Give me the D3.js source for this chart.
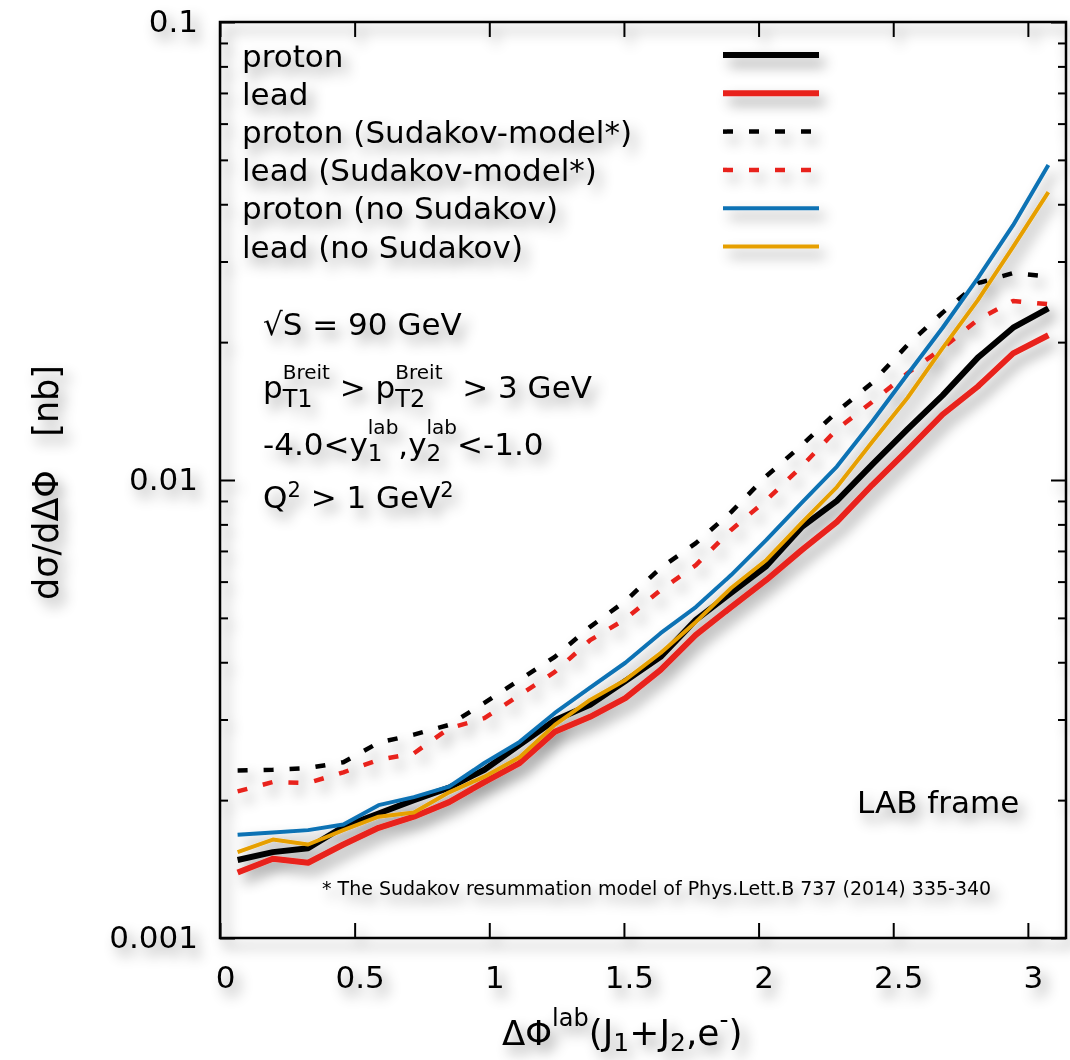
<!DOCTYPE html>
<html>
<head>
<meta charset="utf-8">
<script src="https://cdn.jsdelivr.net/npm/d3@7"></script>
<style>
body { margin: 0; background: #fff; }
text { font-family: "DejaVu Sans", Verdana, sans-serif; white-space: pre; fill: #000; }
</style>
</head>
<body>
<svg id="chart" width="1070" height="1060"></svg>
<script>
// bin centres in delta phi (24 bins over 0..pi)
const phiBins = [0.0654, 0.1963, 0.3272, 0.4581, 0.5890, 0.7199, 0.8508, 0.9817,
    1.1126, 1.2435, 1.3744, 1.5053, 1.6362, 1.7671, 1.8980, 2.0289,
    2.1598, 2.2907, 2.4216, 2.5525, 2.6834, 2.8143, 2.9452, 3.0761];

const proton = [0.00148, 0.00154, 0.00157, 0.00175, 0.00187, 0.00200, 0.00213, 0.00233,
    0.00264, 0.00299, 0.00323, 0.00364, 0.00411, 0.00495, 0.00567, 0.00649,
    0.00789, 0.00900, 0.0108, 0.0129, 0.0153, 0.0185, 0.0215, 0.0237];
const lead = [0.00139, 0.00149, 0.00146, 0.00160, 0.00174, 0.00184, 0.00198, 0.00219,
    0.00241, 0.00282, 0.00304, 0.00334, 0.00385, 0.00459, 0.00528, 0.00605,
    0.00703, 0.00810, 0.00975, 0.0116, 0.0139, 0.0160, 0.0189, 0.0207];
const protonSud = [0.00232, 0.00233, 0.00235, 0.00242, 0.00267, 0.00278, 0.00292, 0.00326,
    0.00366, 0.00411, 0.00478, 0.00544, 0.00643, 0.00728, 0.00851, 0.0102,
    0.0119, 0.0141, 0.0163, 0.0197, 0.0232, 0.0269, 0.0283, 0.0278];
const leadSud = [0.00209, 0.00219, 0.00218, 0.00230, 0.00245, 0.00253, 0.00287, 0.00302,
    0.00339, 0.00381, 0.00447, 0.00497, 0.00575, 0.00652, 0.00778, 0.00904,
    0.0107, 0.0129, 0.0148, 0.0171, 0.0194, 0.0224, 0.0246, 0.0242];
const protonNoSud = [0.00168, 0.00170, 0.00172, 0.00177, 0.00195, 0.00203, 0.00214, 0.00241,
    0.00268, 0.00310, 0.00352, 0.00399, 0.00463, 0.00528, 0.00620, 0.00740,
    0.00891, 0.0107, 0.0134, 0.0170, 0.0215, 0.0276, 0.0360, 0.0487];
const leadNoSud = [0.00154, 0.00164, 0.00160, 0.00172, 0.00184, 0.00188, 0.00208, 0.00225,
    0.00248, 0.00292, 0.00331, 0.00366, 0.00419, 0.00490, 0.00581, 0.00669,
    0.00806, 0.00965, 0.0121, 0.0151, 0.0194, 0.0247, 0.0323, 0.0425];

const seriesLabels = ["proton", "lead", "proton (Sudakov-model*)", "lead (Sudakov-model*)",
    "proton (no Sudakov)", "lead (no Sudakov)"];

const xTicks = [0, 0.5, 1, 1.5, 2, 2.5, 3];
const xTickLabels = ["0", "0.5", "1", "1.5", "2", "2.5", "3"];
const yTicks = [0.001, 0.01, 0.1];
const yTickLabels = ["0.001", "0.01", "0.1"];

const series = [
    { label: seriesLabels[0], values: proton, color: "#000000", width: 6, dash: null },
    { label: seriesLabels[1], values: lead, color: "#e8231b", width: 6, dash: null },
    { label: seriesLabels[2], values: protonSud, color: "#000000", width: 4.5, dash: "10,16" },
    { label: seriesLabels[3], values: leadSud, color: "#e8231b", width: 4.5, dash: "10,16" },
    { label: seriesLabels[4], values: protonNoSud, color: "#0a72b4", width: 4, dash: null },
    { label: seriesLabels[5], values: leadNoSud, color: "#e69f00", width: 4, dash: null }
];

const W = 1070, H = 1060;
const plot = { left: 220, top: 22, right: 1066, bottom: 938 };

const x = d3.scaleLinear().domain([0, Math.PI]).range([plot.left, plot.right]);
const y = d3.scaleLog().domain([0.001, 0.1]).range([plot.bottom, plot.top]);

const svg = d3.select("#chart");
const filter = svg.append("defs").append("filter")
    .attr("id", "shadow")
    .attr("filterUnits", "userSpaceOnUse")
    .attr("x", 0).attr("y", 0).attr("width", W).attr("height", H);
filter.append("feDropShadow")
    .attr("dx", 6).attr("dy", 8)
    .attr("stdDeviation", 6.5)
    .attr("flood-color", "#000")
    .attr("flood-opacity", 0.42);

const root = svg.append("g").attr("filter", "url(#shadow)");

const minorTicks = y.ticks().filter(d => yTicks.indexOf(d) < 0);

function styleAxis(g) {
    g.select(".domain").remove();
    g.attr("font-family", null).attr("font-size", null);
    g.selectAll(".tick line").attr("stroke", "#000").attr("stroke-width", 2);
    g.selectAll(".tick text").attr("font-size", 31).attr("fill", "#000");
}

// bottom + top
root.append("g")
    .attr("transform", `translate(0,${plot.bottom})`)
    .call(d3.axisBottom(x).tickValues(xTicks).tickFormat((d, i) => xTickLabels[i]).tickSize(-15).tickPadding(28))
    .call(styleAxis)
    .selectAll(".tick text").attr("dx", 5);

root.append("g")
    .attr("transform", `translate(0,${plot.top})`)
    .call(d3.axisTop(x).tickValues(xTicks).tickFormat("").tickSize(-15))
    .call(styleAxis);

// left + right
root.append("g")
    .attr("transform", `translate(${plot.left},0)`)
    .call(d3.axisLeft(y).tickValues(yTicks).tickFormat((d, i) => yTickLabels[i]).tickSize(-15).tickPadding(22))
    .call(styleAxis);
root.append("g")
    .attr("transform", `translate(${plot.left},0)`)
    .call(d3.axisLeft(y).tickValues(minorTicks).tickFormat("").tickSize(-8))
    .call(styleAxis);
root.append("g")
    .attr("transform", `translate(${plot.right},0)`)
    .call(d3.axisRight(y).tickValues(yTicks).tickFormat("").tickSize(-15))
    .call(styleAxis);
root.append("g")
    .attr("transform", `translate(${plot.right},0)`)
    .call(d3.axisRight(y).tickValues(minorTicks).tickFormat("").tickSize(-8))
    .call(styleAxis);

root.append("rect")
    .attr("x", plot.left).attr("y", plot.top)
    .attr("width", plot.right - plot.left).attr("height", plot.bottom - plot.top)
    .attr("fill", "none").attr("stroke", "#000").attr("stroke-width", 2.5);

// curves
const line = d3.line()
    .x((d, i) => x(phiBins[i]))
    .y(d => y(d));

root.selectAll(".curve")
    .data(series)
    .enter()
    .append("path")
    .attr("class", "curve")
    .attr("d", d => line(d.values))
    .attr("fill", "none")
    .attr("stroke", d => d.color)
    .attr("stroke-width", d => d.width)
    .attr("stroke-dasharray", d => d.dash)
    .attr("stroke-linejoin", "round");

// legend
const legend = root.append("g");
series.forEach((s, i) => {
    legend.append("text")
        .attr("x", 242).attr("y", 67 + i * 38.1)
        .attr("font-size", 31)
        .text(s.label);
    legend.append("line")
        .attr("x1", 723).attr("x2", 819)
        .attr("y1", 55 + i * 38.3).attr("y2", 55 + i * 38.3)
        .attr("stroke", s.color)
        .attr("stroke-width", s.width)
        .attr("stroke-dasharray", s.dash);
});

// text with sub/superscripts laid out piece by piece
function rich(parent, x0, yb, pieces) {
    let cx = x0;
    pieces.forEach(p => {
        const parts = p.stack ? p.stack : [p];
        let adv = 0;
        parts.forEach(q => {
            const t = parent.append("text")
                .attr("x", cx)
                .attr("y", yb + (q.dy || 0))
                .attr("font-size", q.size || 31)
                .text(q.t);
            adv = Math.max(adv, t.node().getComputedTextLength());
        });
        cx += adv;
    });
    return cx;
}

rich(root, 263, 335, [{ t: "√S = 90 GeV" }]);
rich(root, 263, 398, [
    { t: "p" },
    { stack: [{ t: "T1", size: 24, dy: 9 }, { t: "Breit", size: 20, dy: -19 }] },
    { t: " > p" },
    { stack: [{ t: "T2", size: 24, dy: 9 }, { t: "Breit", size: 20, dy: -19 }] },
    { t: "  > 3 GeV" }
]);
rich(root, 263, 455, [
    { t: "-4.0<y" },
    { stack: [{ t: "1", size: 23, dy: 6 }, { t: "lab", size: 20, dy: -21 }] },
    { t: ",y" },
    { stack: [{ t: "2", size: 23, dy: 6 }, { t: "lab", size: 20, dy: -21 }] },
    { t: "<-1.0" }
]);
rich(root, 263, 508, [
    { t: "Q" }, { t: "2", size: 21, dy: -11 }, { t: " > 1 GeV" }, { t: "2", size: 21, dy: -11 }
]);

root.append("text").attr("x", 857).attr("y", 813).attr("font-size", 31).text("LAB frame");
root.append("text").attr("x", 322).attr("y", 895).attr("font-size", 19)
    .text("* The Sudakov resummation model of Phys.Lett.B 737 (2014) 335-340");

// axis titles
rich(root, 502, 1045, [
    { t: "ΔΦ", size: 34 }, { t: "lab", size: 24, dy: -19 }, { t: "(J", size: 36 },
    { t: "1", size: 25, dy: 6 }, { t: "+J", size: 36 }, { t: "2", size: 25, dy: 6 },
    { t: ",e", size: 36 }, { t: "-", size: 25, dy: -17 }, { t: ")", size: 36 }
]);
root.append("text")
    .attr("transform", "translate(58,600) rotate(-90)")
    .attr("font-size", 35)
    .text("dσ/dΔΦ   [nb]");
</script>
</body>
</html>
